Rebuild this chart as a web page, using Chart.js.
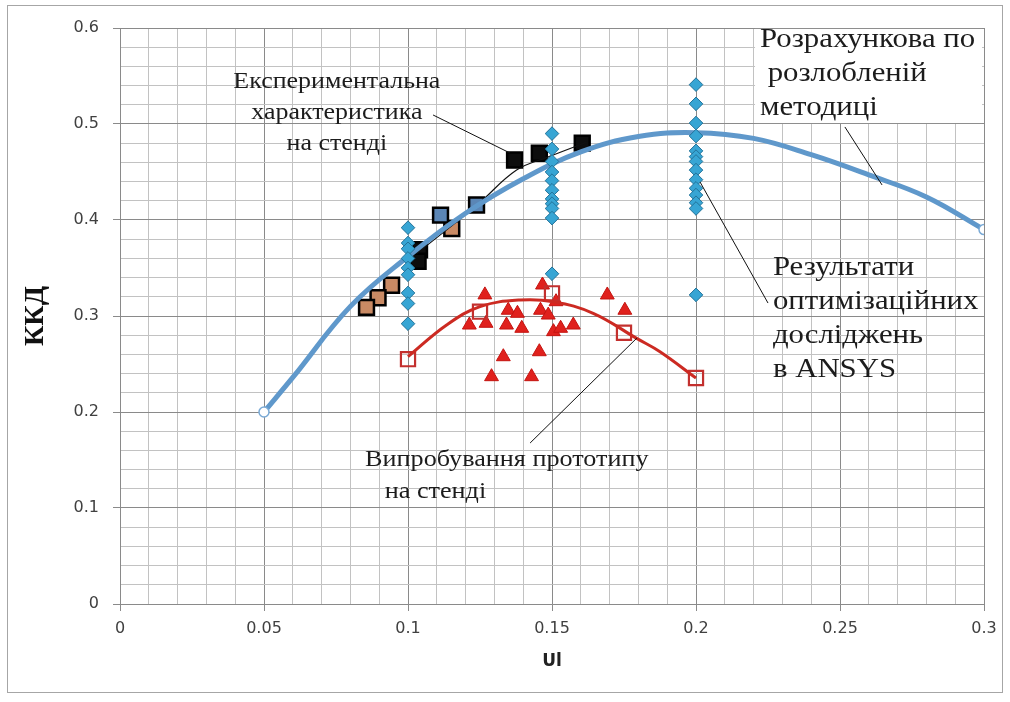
<!DOCTYPE html>
<html>
<head>
<meta charset="utf-8">
<script src="https://cdn.jsdelivr.net/npm/chart.js@4.4.1/dist/chart.umd.min.js"></script>
<style>
  html, body { margin: 0; padding: 0; background: #fff; }
  #wrap { width: 1010px; height: 702px; position: relative; }
</style>
</head>
<body>
<div id="wrap"><canvas id="c" width="1010" height="702"></canvas></div>
<script>
// Calculated efficiency curve (design method)
const calcUl  = [0.05, 0.06, 0.08, 0.10, 0.12, 0.14, 0.16, 0.18, 0.20, 0.22, 0.24, 0.26, 0.28, 0.30];
const calcEff = [0.200, 0.236, 0.310, 0.362, 0.407, 0.443, 0.471, 0.487, 0.491, 0.485, 0.468, 0.447, 0.424, 0.390];

// Bench characteristic: measured points, grouped by marker fill
const benchBlackUl  = [0.137, 0.1456, 0.1605, 0.104, 0.1035];
const benchBlackEff = [0.4625, 0.4695, 0.480, 0.369, 0.357];
const benchBlueUl   = [0.1113, 0.1238];
const benchBlueEff  = [0.405, 0.4156];
const benchBrownUl  = [0.1152, 0.0943, 0.0896, 0.0856];
const benchBrownEff = [0.391, 0.332, 0.319, 0.309];
// Bench characteristic trend line
const benchTrendUl  = [0.103, 0.124, 0.1377, 0.149, 0.162];
const benchTrendEff = [0.365, 0.4156, 0.452, 0.466, 0.481];

// ANSYS optimisation results
const ansysUl  = [0.10, 0.10, 0.10, 0.10, 0.10, 0.10, 0.10, 0.10, 0.10,
                  0.15, 0.15, 0.15, 0.15, 0.15, 0.15, 0.15, 0.15, 0.15, 0.15, 0.15,
                  0.20, 0.20, 0.20, 0.20, 0.20, 0.20, 0.20, 0.20, 0.20, 0.20, 0.20, 0.20, 0.20, 0.20];
const ansysEff = [0.392, 0.376, 0.370, 0.360, 0.350, 0.343, 0.324, 0.313, 0.292,
                  0.490, 0.474, 0.461, 0.450, 0.441, 0.431, 0.422, 0.417, 0.412, 0.402, 0.344,
                  0.541, 0.521, 0.501, 0.4875, 0.472, 0.466, 0.461, 0.452, 0.442, 0.433, 0.426, 0.418, 0.412, 0.322];

// Prototype bench tests
const protoUl  = [0.1267, 0.1213, 0.1271, 0.1348, 0.138, 0.1342, 0.1395, 0.1331, 0.129, 0.1429,
                  0.1456, 0.1467, 0.146, 0.1487, 0.1514, 0.1505, 0.153, 0.1574, 0.1692, 0.1753];
const protoEff = [0.322, 0.2906, 0.2924, 0.306, 0.3028, 0.2906, 0.2872, 0.2576, 0.2368, 0.2368,
                  0.2628, 0.3323, 0.306, 0.301, 0.3149, 0.2837, 0.2872, 0.2906, 0.3219, 0.306];
const protoAvgUl  = [0.10, 0.125, 0.15, 0.175, 0.20];
const protoAvgEff = [0.255, 0.3045, 0.3236, 0.2826, 0.2354];
// Prototype trend line
const protoTrendUl  = [0.100, 0.1134, 0.125, 0.1389, 0.1505, 0.1643, 0.1794, 0.1875, 0.200];
const protoTrendEff = [0.2576, 0.2906, 0.3097, 0.3167, 0.3149, 0.3028, 0.2767, 0.2628, 0.2354];

// Axis tick labels
const xTickLabels = ['0', '0.05', '0.1', '0.15', '0.2', '0.25', '0.3'];
const yTickLabels = ['0', '0.1', '0.2', '0.3', '0.4', '0.5', '0.6'];

const pts = (xs, ys) => xs.map((x, i) => ({ x, y: ys[i] }));

const MAJOR = '#8a8a8a';
const MINOR = '#c2c2c2';
const isMajorX = v => Math.round(v * 100) % 5 === 0;
const isMajorY = v => Math.round(v * 100) % 10 === 0;

// Callouts: anchored in data units, line spacing in pixels, text slightly widened
const TEXT_STRETCH = 1.1;
const callouts = [
  { lines: ['Експериментальна', 'характеристика', 'на стенді'], at: [0.0753, 0.5438], align: 'center',
    size: 23.6, step: 31, leader: [[0.1087, 0.5094], [0.1354, 0.4698]] },
  { lines: ['Розрахункова по', ' розлобленій', 'методиці'], at: [0.2222, 0.5875], align: 'left',
    size: 28, step: 34, leader: [[0.2517, 0.4969], [0.2646, 0.4365]],
    box: [[0.2205, 0.599], [0.2993, 0.501]] },
  { lines: ['Результати', 'оптимізаційних', 'досліджень', 'в ANSYS'], at: [0.2267, 0.350], align: 'left',
    size: 28, step: 34, leader: [[0.2014, 0.4396], [0.2250, 0.3135]] },
  { lines: ['Випробування прототипу', '   на стенді'], at: [0.0851, 0.150], align: 'left',
    size: 23.8, step: 32, leader: [[0.1424, 0.1677], [0.1795, 0.2771]] }
];

const calloutPlugin = {
  id: 'callouts',
  beforeDraw(chart) {
    const { ctx, width, height } = chart;
    ctx.save();
    ctx.fillStyle = '#ffffff';
    ctx.fillRect(0, 0, width, height);
    ctx.strokeStyle = '#a6a6a6';
    ctx.lineWidth = 1;
    ctx.strokeRect(7.5, 5.5, 995, 687);
    ctx.restore();
  },
  beforeDatasetsDraw(chart) {
    const { ctx, scales: { x, y } } = chart;
    ctx.save();
    ctx.fillStyle = '#ffffff';
    callouts.forEach(c => {
      if (!c.box) return;
      const x0 = x.getPixelForValue(c.box[0][0]), y0 = y.getPixelForValue(c.box[0][1]);
      const x1 = x.getPixelForValue(c.box[1][0]), y1 = y.getPixelForValue(c.box[1][1]);
      ctx.fillRect(x0, y0, x1 - x0, y1 - y0);
    });
    ctx.restore();
  },
  afterDatasetsDraw(chart) {
    const { ctx, scales: { x, y } } = chart;
    callouts.forEach(c => {
      ctx.save();
      ctx.strokeStyle = '#111';
      ctx.lineWidth = 1;
      ctx.beginPath();
      ctx.moveTo(x.getPixelForValue(c.leader[0][0]), y.getPixelForValue(c.leader[0][1]));
      ctx.lineTo(x.getPixelForValue(c.leader[1][0]), y.getPixelForValue(c.leader[1][1]));
      ctx.stroke();
      const px = x.getPixelForValue(c.at[0]);
      const py = y.getPixelForValue(c.at[1]);
      ctx.translate(px, py);
      ctx.scale(TEXT_STRETCH, 1);
      ctx.font = c.size + 'px "Liberation Serif", "DejaVu Serif", serif';
      ctx.fillStyle = '#1c1c1c';
      ctx.textAlign = c.align;
      ctx.textBaseline = 'middle';
      c.lines.forEach((t, i) => ctx.fillText(t, 0, i * c.step));
      ctx.restore();
    });
  }
};

new Chart(document.getElementById('c'), {
  type: 'scatter',
  data: {
    datasets: [
      { label: 'ANSYS', data: pts(ansysUl, ansysEff), pointStyle: 'rectRot', pointRadius: 6.8,
        backgroundColor: '#37a5d4', borderColor: '#22739a', borderWidth: 1, order: 1 },
      { label: 'Розрахункова', data: pts(calcUl, calcEff), showLine: true, tension: 0.4,
        borderColor: '#5f98cb', borderWidth: 5, backgroundColor: '#ffffff',
        pointRadius: ctx => (ctx.dataIndex === 0 || ctx.dataIndex === calcUl.length - 1) ? 5 : 0,
        pointBorderColor: '#7aaad6', pointBorderWidth: 1.5, pointBackgroundColor: '#ffffff', order: 2 },
      { label: 'Тренд стенд', data: pts(benchTrendUl, benchTrendEff), showLine: true, tension: 0.4,
        borderColor: '#111', borderWidth: 1.2, pointRadius: 0, order: 3 },
      { label: 'Стенд 1', data: pts(benchBlackUl, benchBlackEff), pointStyle: 'rect', pointRadius: 10.5,
        backgroundColor: '#0d0d0d', borderColor: '#000', borderWidth: 2.5, order: 4 },
      { label: 'Стенд 2', data: pts(benchBlueUl, benchBlueEff), pointStyle: 'rect', pointRadius: 10.5,
        backgroundColor: '#5b86b6', borderColor: '#000', borderWidth: 2.5, order: 4 },
      { label: 'Стенд 3', data: pts(benchBrownUl, benchBrownEff), pointStyle: 'rect', pointRadius: 10.5,
        backgroundColor: '#c98a64', borderColor: '#000', borderWidth: 2.5, order: 4 },
      { label: 'Прототип тренд', data: pts(protoTrendUl, protoTrendEff), showLine: true, tension: 0.4,
        borderColor: '#cc2a22', borderWidth: 3, pointRadius: 0, order: 5 },
      { label: 'Прототип середнє', data: pts(protoAvgUl, protoAvgEff), pointStyle: 'rect', pointRadius: 10,
        backgroundColor: 'rgba(0,0,0,0)', borderColor: '#c3302e', borderWidth: 2.2, order: 5 },
      { label: 'Прототип', data: pts(protoUl, protoEff), pointStyle: 'triangle', pointRadius: 8,
        backgroundColor: '#e0211d', borderColor: '#c41410', borderWidth: 1, order: 6 }
    ]
  },
  options: {
    responsive: false,
    animation: false,
    devicePixelRatio: 1,
    layout: { padding: { top: 28, right: 26, left: 0, bottom: 0 } },
    plugins: { legend: { display: false }, tooltip: { enabled: false } },
    scales: {
      x: {
        type: 'linear', min: 0, max: 0.3,
        afterFit: s => { s.height = 98; },
        border: { color: MAJOR },
        grid: {
          color: c => isMajorX(c.tick.value) ? MAJOR : MINOR,
          tickColor: c => isMajorX(c.tick.value) ? MAJOR : 'rgba(0,0,0,0)',
          tickLength: 7, lineWidth: 1
        },
        ticks: {
          stepSize: 0.01, maxTicksLimit: 100, autoSkip: false, maxRotation: 0, padding: 8,
          color: '#404040', font: { family: 'DejaVu Sans', size: 16 },
          callback: v => isMajorX(v) ? xTickLabels[Math.round(v * 20)] : ''
        },
        title: { display: true, text: 'Ul', color: '#222',
          font: { family: 'DejaVu Sans', size: 17, weight: 'bold' }, padding: { top: 0, bottom: 30 } }
      },
      y: {
        type: 'linear', min: 0, max: 0.6,
        afterFit: s => { s.width = 120; },
        border: { color: MAJOR },
        grid: {
          color: c => isMajorY(c.tick.value) ? MAJOR : MINOR,
          tickColor: c => isMajorY(c.tick.value) ? MAJOR : 'rgba(0,0,0,0)',
          tickLength: 7, lineWidth: 1
        },
        ticks: {
          stepSize: 0.02, maxTicksLimit: 100, autoSkip: false, padding: 14,
          color: '#404040', font: { family: 'DejaVu Sans', size: 16 },
          callback: v => isMajorY(v) ? yTickLabels[Math.round(v * 10)] : ''
        },
        title: { display: true, text: 'ККД', color: '#111',
          font: { family: 'Liberation Serif', size: 28, weight: 'bold' }, padding: { top: 19, bottom: 0 } }
      }
    }
  },
  plugins: [calloutPlugin]
});
</script>
</body>
</html>
